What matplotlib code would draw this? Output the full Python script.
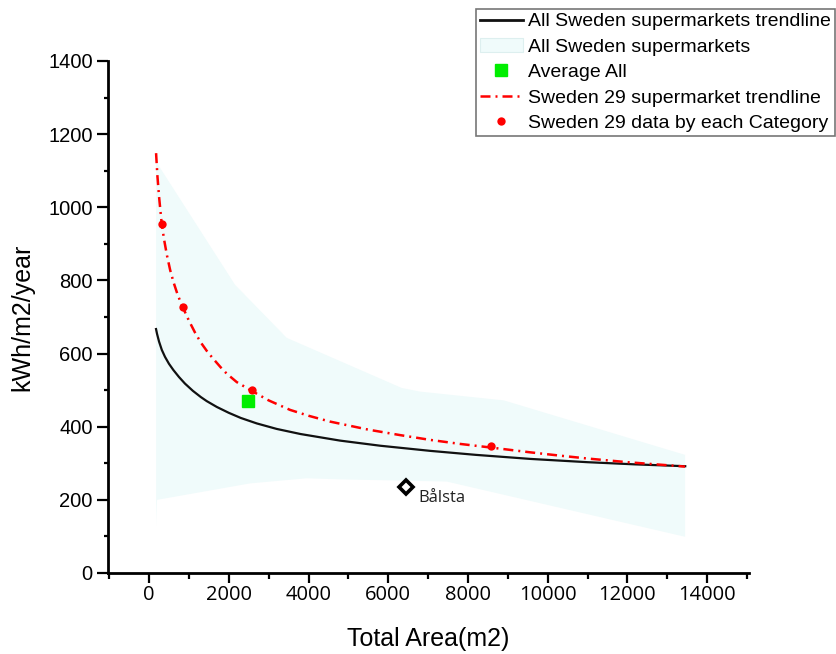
import matplotlib
matplotlib.use("Agg")
import matplotlib.pyplot as plt
from matplotlib.lines import Line2D
from matplotlib.patches import Patch
from matplotlib.ticker import MultipleLocator

# ---- data ----
# All Sweden supermarkets trendline (black)
all_trend_x = [175, 200, 250, 320, 400, 500, 610, 750, 900, 1100, 1300, 1447,
               1700, 2000, 2300, 2702, 3200, 3800, 4792, 5800, 7050, 8200,
               9559, 11000, 12200, 13450]
all_trend_y = [667, 654, 633, 610, 591, 572, 555, 536, 518, 498, 481, 470,
               454, 438, 424, 409, 394, 380, 362, 348, 334, 323,
               312, 303, 297, 292]

# All Sweden supermarkets range (band)
band_upper_x = [176, 2158, 3454, 6338, 6800, 8900, 13447]
band_upper_y = [1125, 788, 643, 506, 496, 472, 323]
band_lower_x = [176, 200, 2534, 3956, 4792, 7468, 13447]
band_lower_y = [130, 200, 245, 259, 256, 250, 99]

# Average All
avg_x = [2491]
avg_y = [471]

# Sweden 29 supermarket trendline (red dash-dot)
s29_trend_x = [176, 210, 250, 318, 380, 450, 530, 620, 720, 845, 1000, 1150,
               1300, 1450, 1600, 1800, 1949, 2200, 2576, 3000, 3537, 4000,
               4541, 5500, 6300, 7050, 7800, 8580, 9559, 10300, 11000, 12000,
               13447]
s29_trend_y = [1148, 1085, 1030, 954, 910, 868, 828, 793, 760, 727, 690, 658,
               630, 607, 587, 562, 545, 522, 498, 472, 446, 430,
               414, 392, 377, 364, 353, 343, 330, 321, 313, 303,
               291]

# Sweden 29 data by each Category
s29_pts_x = [318, 845, 2576, 8580]
s29_pts_y = [954, 727, 500, 347]

# Bålsta
balsta_x = [6448]
balsta_y = [236]
balsta_label = "Bålsta"

x_ticks = [0, 2000, 4000, 6000, 8000, 10000, 12000, 14000]
y_ticks = [0, 200, 400, 600, 800, 1000, 1200, 1400]

# ---- figure ----
plt.rcParams['font.family'] = ['Liberation Sans', 'DejaVu Sans']
fig = plt.figure(figsize=(8.37, 6.54), dpi=100)
ax = fig.add_axes([108/837, 1-573/654, (749-108)/837, (573-61)/654])

band_color = '#F0FBFB'
poly_x = list(band_upper_x) + list(band_lower_x[::-1])
poly_y = list(band_upper_y) + list(band_lower_y[::-1])
ax.fill(poly_x, poly_y, color=band_color, lw=0, zorder=1)

ax.plot(all_trend_x, all_trend_y, color='#111111', lw=1.6, zorder=3,
        solid_joinstyle='round')
ax.plot(s29_trend_x, s29_trend_y, color='#FF0000', lw=1.8,
        dashes=(4, 2, 0.8, 2), zorder=4)
ax.plot(s29_pts_x, s29_pts_y, 'o', color='#FF0000', ms=6, mec='none', zorder=5)
ax.plot(avg_x, avg_y, 's', color='#00EE00', ms=9, mec='#00EE00', zorder=5)
ax.plot(balsta_x, balsta_y, 'D', mfc='white', mec='black', mew=2.6, ms=7.5, zorder=5)
ax.text(balsta_x[0] + 300, balsta_y[0] - 30, balsta_label, fontsize=12,
        family=['Open Sans', 'DejaVu Sans'], ha='left', va='center', color='#222222')

ax.set_xlim(-1030, 15050)
ax.set_ylim(0, 1400)
ax.set_xticks(x_ticks)
ax.set_yticks(y_ticks)
ax.xaxis.set_minor_locator(MultipleLocator(1000))
ax.yaxis.set_minor_locator(MultipleLocator(100))

for s in ['top', 'right']:
    ax.spines[s].set_visible(False)
for s in ['left', 'bottom']:
    ax.spines[s].set_linewidth(2)

ax.tick_params(axis='y', which='major', direction='out', length=8, width=1.6,
               labelsize=14.5, pad=3)
ax.tick_params(axis='y', which='minor', direction='out', length=3, width=1.6)
ax.tick_params(axis='x', which='major', direction='out', length=7, width=1.6,
               labelsize=14.5, pad=2)
ax.tick_params(axis='x', which='minor', direction='out', length=4, width=1.6)
for lab in ax.get_xticklabels():
    lab.set_family(['Open Sans', 'DejaVu Sans'])

ax.set_xlabel('Total Area(m2)', fontsize=18)
ax.set_ylabel('kWh/m2/year', fontsize=18)
ax.xaxis.set_label_coords(0.5, -0.105)
ax.yaxis.set_label_coords(-0.115, 0.5)

handles = [
    Line2D([], [], color='#111111', lw=2),
    Patch(facecolor=band_color, edgecolor='#DDEFEF', lw=0.8),
    Line2D([], [], marker='s', color='#00EE00', ls='none', ms=9),
    Line2D([], [], color='#FF0000', lw=1.8, dashes=(4, 2, 0.8, 2)),
    Line2D([], [], marker='o', color='#FF0000', ls='none', ms=6, mec='none'),
]
labels = ['All Sweden supermarkets trendline', 'All Sweden supermarkets',
          'Average All', 'Sweden 29 supermarket trendline',
          'Sweden 29 data by each Category']
leg = fig.legend(handles, labels, loc='upper left',
                 bbox_to_anchor=(476/837, 1-9/654), bbox_transform=fig.transFigure,
                 fontsize=14, frameon=True, fancybox=False, framealpha=1,
                 edgecolor='#777777', borderpad=0.2, labelspacing=0.4,
                 handlelength=2.2, handletextpad=0.3, borderaxespad=0)
leg.get_frame().set_linewidth(1.2)

fig.savefig('out.png', dpi=100)
